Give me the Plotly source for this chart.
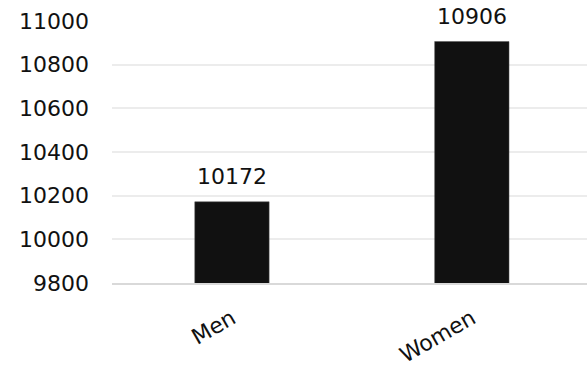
import plotly.graph_objects as go

categories = ["Men", "Women"]
values = [10172, 10906]
y_ticks = [9800, 10000, 10200, 10400, 10600, 10800, 11000]
y_tick_labels = [str(v) for v in y_ticks]

FONT = "DejaVu Sans"

fig = go.Figure(
    go.Bar(
        x=categories,
        y=values,
        width=0.31,
        marker=dict(color="#111111", line=dict(color="#555555", width=0.5)),
        cliponaxis=False,
        hoverinfo="skip",
    )
)

for cat, val in zip(categories, values):
    fig.add_annotation(
        x=cat, y=val, text=str(val), showarrow=False,
        yanchor="bottom", yshift=11,
        font=dict(family=FONT, size=22, color="#111111"),
    )

fig.update_layout(
    width=587, height=373,
    margin=dict(l=112, r=0, t=21, b=90),
    paper_bgcolor="white", plot_bgcolor="white",
    showlegend=False,
    font=dict(family=FONT, size=22, color="#111111"),
)

fig.update_xaxes(
    range=[-0.5, 1.48],
    tickangle=-30,
    showgrid=False,
    showline=True, linecolor="#d9d9d9", linewidth=2,
    ticks="", ticklabelstandoff=12,
    tickfont=dict(family=FONT, size=22),
)

fig.update_yaxes(
    range=[9800, 11000],
    tickvals=y_ticks,
    ticktext=y_tick_labels,
    showgrid=True, gridcolor="#ececec", gridwidth=2,
    zeroline=False, showline=False,
    ticks="", ticklabelstandoff=22,
    tickfont=dict(family=FONT, size=22),
)

fig.write_html("out.html")
